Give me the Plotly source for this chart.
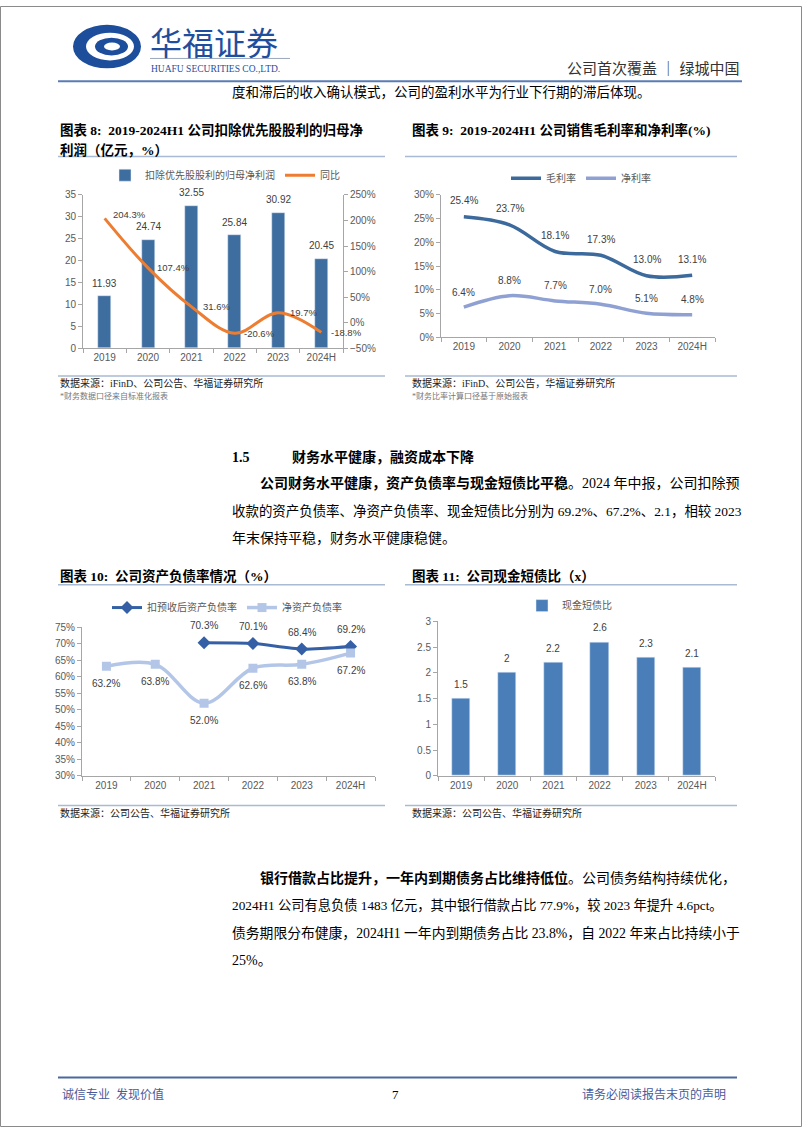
import plotly.graph_objects as go

W, H = 802, 1133
def X(px): return px / W
def Y(py): return 1 - py / H

# ---------------- data ----------------
cats = ['2019', '2020', '2021', '2022', '2023', '2024H']
profit = [11.93, 24.74, 32.55, 25.84, 30.92, 20.45]
profit_yoy = [204.3, 107.4, 31.6, -20.6, 19.7, -18.8]
gross_margin = [25.4, 23.7, 18.1, 17.3, 13.0, 13.1]
net_margin = [6.4, 8.8, 7.7, 7.0, 5.1, 4.8]
debt_ratio_adj = [None, None, 70.3, 70.1, 68.4, 69.2]
net_gearing = [63.2, 63.8, 52.0, 62.6, 63.8, 67.2]
cash_short_debt = [1.5, 2.0, 2.2, 2.6, 2.3, 2.1]

TICKF = dict(family='Liberation Sans, Arial, sans-serif', size=10, color='#595959')
LABF = dict(family='Liberation Sans, Arial, sans-serif', size=10, color='#404040')
BODY = 'Liberation Serif, Noto Sans CJK SC, serif'
CJK = 'Noto Sans CJK SC, sans-serif'
AXC = '#A6A6A6'

fig = go.Figure()

# Chart 8
fig.add_trace(go.Bar(x=cats, y=profit, name='扣除优先股股利的归母净利润', marker_color='#3E6D9F',
                     width=0.3, xaxis='x', yaxis='y', legend='legend'))
fig.add_trace(go.Scatter(x=cats, y=profit_yoy, name='同比', mode='lines', line=dict(color='#ED7D31', width=3, shape='spline', smoothing=1.0),
                         xaxis='x', yaxis='y2', legend='legend'))
# Chart 9
fig.add_trace(go.Scatter(x=cats, y=gross_margin, name='毛利率', mode='lines', line=dict(color='#3D6A9C', width=3.5, shape='spline', smoothing=1.0),
                         xaxis='x2', yaxis='y3', legend='legend2'))
fig.add_trace(go.Scatter(x=cats, y=net_margin, name='净利率', mode='lines', line=dict(color='#8FA1D2', width=3.5, shape='spline', smoothing=1.0),
                         xaxis='x2', yaxis='y3', legend='legend2'))
# Chart 10
fig.add_trace(go.Scatter(x=cats, y=debt_ratio_adj, name='扣预收后资产负债率', mode='lines+markers',
                         line=dict(color='#3560A6', width=3, shape='spline', smoothing=0.6),
                         marker=dict(symbol='diamond', size=10, color='#3560A6'),
                         xaxis='x3', yaxis='y4', legend='legend3'))
fig.add_trace(go.Scatter(x=cats, y=net_gearing, name='净资产负债率', mode='lines+markers',
                         line=dict(color='#B4C6E7', width=3.5, shape='spline', smoothing=1.0),
                         marker=dict(symbol='square', size=9, color='#B4C6E7'),
                         xaxis='x3', yaxis='y4', legend='legend3'))
# Chart 11
fig.add_trace(go.Bar(x=cats, y=cash_short_debt, name='现金短债比', marker_color='#4A7EB8', width=0.4,
                     xaxis='x4', yaxis='y5', legend='legend4'))

def xax(d, anchor):
    return dict(domain=d, anchor=anchor, type='category', range=[-0.5, len(cats) - 0.5],
                showline=True, linecolor=AXC, linewidth=1,
                ticks='outside', tickson='boundaries', ticklen=4, tickcolor=AXC, tickfont=TICKF,
                showgrid=False, zeroline=False, fixedrange=True)

def yax(d, anchor, rng, dtick, suffix='', side='left'):
    return dict(domain=d, anchor=anchor, range=rng, dtick=dtick, ticksuffix=suffix, side=side,
                showline=True, linecolor=AXC, linewidth=1, ticks='outside', ticklen=4, tickcolor=AXC,
                tickfont=TICKF, showgrid=False, zeroline=False, fixedrange=True)

d8x = [X(83), X(343)]; d8y = [Y(346), Y(191)]
d9x = [X(441), X(715)]; d9y = [Y(335), Y(191)]
d10x = [X(82), X(375)]; d10y = [Y(778), Y(628)]
d11x = [X(438), X(715)]; d11y = [Y(778), Y(622)]

y2 = yax(d8y, 'x', [-50, 250], 50, '%', 'right')
y2['overlaying'] = 'y'

legbase = dict(orientation='h', xanchor='left', yanchor='middle', bgcolor='rgba(0,0,0,0)',
               font=dict(family=CJK, size=10, color='#595959'), itemwidth=30, tracegroupgap=0)

fig.update_layout(
    width=W, height=H, margin=dict(l=0, r=0, t=0, b=0), paper_bgcolor='white', plot_bgcolor='white',
    bargap=0,
    xaxis=xax(d8x, 'y'), yaxis=yax(d8y, 'x', [0, 35], 5), yaxis2=y2,
    xaxis2=xax(d9x, 'y3'), yaxis3=yax(d9y, 'x2', [0, 30], 5, '%'),
    xaxis3=xax(d10x, 'y4'), yaxis4=yax(d10y, 'x3', [30, 75], 5, '%'),
    xaxis4=xax(d11x, 'y5'), yaxis5=yax(d11y, 'x4', [0, 3], 0.5),
    legend=dict(legbase, x=X(105), y=Y(171)),
    legend2=dict(legbase, x=X(506), y=Y(174)),
    legend3=dict(legbase, x=X(107), y=Y(608)),
    legend4=dict(legbase, x=X(522), y=Y(606)),
    showlegend=True,
)

# small vertical nudges for the 同比 labels (style only) so the first one clears the bar label
yoy_label_dy = [4, 0, 0, 0, 0, 0]

ann = []
# data labels (category index used as x so numeric-looking names are not misread)
for i, v in enumerate(profit):
    ann.append(dict(x=i, y=v, xref='x', yref='y', text=f'{v:.2f}', showarrow=False, yshift=13, font=LABF))
for i, v in enumerate(profit_yoy):
    ann.append(dict(x=i, y=v, xref='x', yref='y2', text=f'{v:.1f}%', showarrow=False, xshift=25,
                    yshift=yoy_label_dy[i], font=dict(LABF, size=9.5)))
for i, v in enumerate(gross_margin):
    ann.append(dict(x=i, y=v, xref='x2', yref='y3', text=f'{v:.1f}%', showarrow=False, yshift=16, font=LABF))
for i, v in enumerate(net_margin):
    ann.append(dict(x=i, y=v, xref='x2', yref='y3', text=f'{v:.1f}%', showarrow=False, yshift=15, font=LABF))
for i, v in enumerate(debt_ratio_adj):
    if v is not None:
        ann.append(dict(x=i, y=v, xref='x3', yref='y4', text=f'{v:.1f}%', showarrow=False, yshift=17, font=LABF))
for i, v in enumerate(net_gearing):
    ann.append(dict(x=i, y=v, xref='x3', yref='y4', text=f'{v:.1f}%', showarrow=False, yshift=-17, font=LABF))
for i, v in enumerate(cash_short_debt):
    ann.append(dict(x=i, y=v, xref='x4', yref='y5', text=f'{v:g}', showarrow=False, yshift=14, font=LABF))

def txt(x, y, s, size=14, color='#000000', family=BODY, anchor='left'):
    ann.append(dict(x=X(x), y=Y(y), xref='paper', yref='paper', text=s, showarrow=False, xanchor=anchor,
                    yanchor='middle', font=dict(family=family, size=size, color=color)))

# header
txt(148, 35, '华福证券', size=32, color='#1F4E9E', family='Noto Sans CJK SC')
txt(149, 64, 'HUAFU SECURITIES CO.,LTD.', size=9.5, color='#1F4E9E', family='Liberation Serif')
txt(742, 64, '公司首次覆盖 ｜ 绿城中国', size=15, color='#333333', anchor='right')
txt(230, 87, '度和滞后的收入确认模式，公司的盈利水平为行业下行期的滞后体现。', size=13.5)

# chart titles
txt(58, 125, '<b>图表 8:  2019-2024H1 公司扣除优先股股利的归母净</b>', size=13.5)
txt(58, 146, '<b>利润（亿元，%）</b>', size=13.5)
txt(410, 125, '<b>图表 9:  2019-2024H1 公司销售毛利率和净利率(%)</b>', size=13.5)
txt(58, 576, '<b>图表 10:  公司资产负债率情况（%）</b>', size=13.5)
txt(410, 576, '<b>图表 11:  公司现金短债比（x）</b>', size=13.5)

# sources
txt(58, 381, '数据来源：iFinD、公司公告、华福证券研究所', size=10, color='#222222')
txt(58, 394, '*财务数据口径来自标准化报表', size=8, color='#777777')
txt(410, 381, '数据来源：iFinD、公司公告，华福证券研究所', size=10, color='#222222')
txt(410, 394, '*财务比率计算口径基于原始报表', size=8, color='#777777')
txt(58, 816, '数据来源：公司公告、华福证券研究所', size=10, color='#222222')
txt(410, 816, '数据来源：公司公告、华福证券研究所', size=10, color='#222222')

# section 1.5
txt(230, 456, '<b>1.5</b>', size=14)
txt(290, 456, '<b>财务水平健康，融资成本下降</b>', size=14)
txt(258, 482, '<b>公司财务水平健康，资产负债率与现金短债比平稳</b>。2024 年中报，公司扣除预', size=14)
txt(230, 510, '收款的资产负债率、净资产负债率、现金短债比分别为 69.2%、67.2%、2.1，相较 2023', size=13.45)
txt(230, 538, '年末保持平稳，财务水平健康稳健。', size=14)

txt(258, 881, '<b>银行借款占比提升，一年内到期债务占比维持低位</b>。公司债务结构持续优化，', size=14)
txt(230, 909, '2024H1 公司有息负债 1483 亿元，其中银行借款占比 77.9%，较 2023 年提升 4.6pct。', size=13.25)
txt(230, 937, '债务期限分布健康，2024H1 一年内到期债务占比 23.8%，自 2022 年来占比持续小于', size=13.8)
txt(230, 965, '25%。', size=14)

# footer
txt(60, 1100, '诚信专业  发现价值', size=12, color='#4A5A9A')
txt(395, 1100, '7', size=13, color='#000000', anchor='center')
txt(728, 1100, '请务必阅读报告末页的声明', size=12, color='#4A5A9A', anchor='right')

shapes = []
def hline(x0, x1, y, color, w):
    shapes.append(dict(type='line', xref='paper', yref='paper', x0=X(x0), x1=X(x1), y0=Y(y), y1=Y(y),
                       line=dict(color=color, width=w)))
hline(58, 742, 76, '#5A7CB3', 2)
hline(150, 290, 53, '#9AA7BD', 1)
hline(58, 385, 152, '#A9BAD5', 1.5)
hline(405, 737, 152, '#A9BAD5', 1.5)
hline(58, 385, 374, '#A9BAD5', 1.5)
hline(405, 737, 374, '#A9BAD5', 1.5)
hline(58, 385, 585, '#A9BAD5', 1.5)
hline(405, 737, 585, '#A9BAD5', 1.5)
hline(58, 385, 808, '#A9BAD5', 1.5)
hline(405, 737, 808, '#A9BAD5', 1.5)
hline(58, 737, 1083, '#4A6A9E', 2)

def ell(x0, x1, y0, y1, color):
    shapes.append(dict(type='circle', xref='paper', yref='paper', x0=X(x0), x1=X(x1), y0=Y(y1), y1=Y(y0),
                       fillcolor=color, line=dict(width=0)))
ell(73, 141, 19, 63, '#1C4E9C')
ell(86, 134, 27, 55, 'white')
ell(95, 128, 32, 50, '#1C4E9C')
ell(104, 120, 37, 45, 'white')
# page border
shapes.append(dict(type='rect', xref='paper', yref='paper', x0=X(0.5), x1=X(801.5), y0=Y(1132.5), y1=Y(0.5),
                   line=dict(color='#8A8A8A', width=1)))

fig.update_layout(annotations=ann, shapes=shapes)
fig.write_html('out.html')
